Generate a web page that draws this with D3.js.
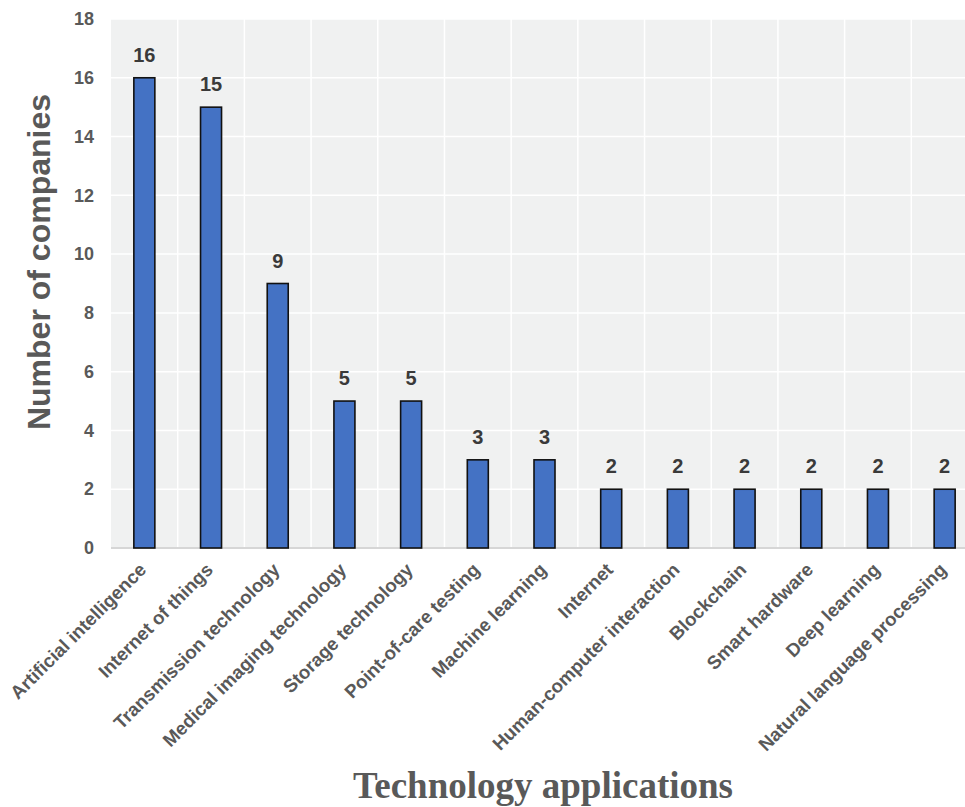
<!DOCTYPE html>
<html>
<head>
<meta charset="utf-8">
<script src="https://cdn.jsdelivr.net/npm/d3@7"></script>
<style>
  body { margin: 0; background: #ffffff; }
  svg { display: block; }
</style>
</head>
<body>
<svg id="chart" width="965" height="807"></svg>
<script>
// Number of companies by technology application
const categories = [
  "Artificial intelligence", "Internet of things", "Transmission technology",
  "Medical imaging technology", "Storage technology", "Point-of-care testing",
  "Machine learning", "Internet", "Human-computer interaction", "Blockchain",
  "Smart hardware", "Deep learning", "Natural language processing"
];
const companies = [16, 15, 9, 5, 5, 3, 3, 2, 2, 2, 2, 2, 2];
const yTicks = [0, 2, 4, 6, 8, 10, 12, 14, 16, 18];

const svg = d3.select("#chart");
const plotLeft = 111, plotRight = 978, plotTop = 19, plotBottom = 548;

const x = d3.scaleBand().domain(categories).range([plotLeft, plotRight]).padding(0);
const y = d3.scaleLinear().domain([0, 18]).range([plotBottom, plotTop]);

// plot background
svg.append("rect")
  .attr("x", plotLeft).attr("y", plotTop)
  .attr("width", plotRight - plotLeft).attr("height", plotBottom - plotTop)
  .attr("fill", "#f0f1f1");

// horizontal grid
svg.append("g").selectAll("line").data(yTicks.slice(1)).join("line")
  .attr("x1", plotLeft).attr("x2", plotRight)
  .attr("y1", d => y(d)).attr("y2", d => y(d))
  .attr("stroke", "#ffffff").attr("stroke-width", 1.5);

// vertical grid at category boundaries
svg.append("g").selectAll("line").data(categories.slice(1)).join("line")
  .attr("x1", d => x(d)).attr("x2", d => x(d))
  .attr("y1", plotTop).attr("y2", plotBottom)
  .attr("stroke", "#ffffff").attr("stroke-width", 1.5);

// baseline
svg.append("line")
  .attr("x1", plotLeft).attr("x2", plotRight)
  .attr("y1", y(0)).attr("y2", y(0))
  .attr("stroke", "#d6d6d6").attr("stroke-width", 2);

// bars
const barW = 21;
svg.append("g").selectAll("rect").data(categories).join("rect")
  .attr("x", d => x(d) + x.bandwidth() / 2 - barW / 2)
  .attr("y", (d, i) => y(companies[i]))
  .attr("width", barW)
  .attr("height", (d, i) => y(0) - y(companies[i]))
  .attr("fill", "#4472c4")
  .attr("stroke", "#111111").attr("stroke-width", 1.6);

// value labels
svg.append("g").selectAll("text").data(categories).join("text")
  .attr("x", d => x(d) + x.bandwidth() / 2)
  .attr("y", (d, i) => y(companies[i]) - 16)
  .attr("text-anchor", "middle")
  .attr("font-family", "Liberation Sans, Arial, sans-serif")
  .attr("font-weight", "bold").attr("font-size", 20)
  .attr("fill", "#3a3a3a")
  .text((d, i) => companies[i]);

// y axis
const yAxis = d3.axisLeft(y).tickValues(yTicks).tickSize(0).tickPadding(0);
const gy = svg.append("g").attr("transform", `translate(${plotLeft - 17},0)`).call(yAxis);
gy.select(".domain").remove();
gy.selectAll("text")
  .attr("font-family", "Liberation Sans, Arial, sans-serif")
  .attr("font-weight", "bold").attr("font-size", 18)
  .attr("fill", "#595959");

// x axis with rotated category labels
const xAxis = d3.axisBottom(x).tickSize(0).tickPadding(0);
const gx = svg.append("g").attr("transform", `translate(0,${y(0)})`).call(xAxis);
gx.select(".domain").remove();
gx.selectAll("text")
  .attr("font-family", "Liberation Sans, Arial, sans-serif")
  .attr("font-weight", "bold").attr("font-size", 18.7)
  .attr("fill", "#595959")
  .attr("text-anchor", "end")
  .attr("dy", null)
  .attr("transform", "translate(3,23) rotate(-45)");

// axis titles
svg.append("text")
  .attr("transform", "translate(50,262) rotate(-90)")
  .attr("text-anchor", "middle")
  .attr("font-family", "Liberation Sans, Arial, sans-serif")
  .attr("font-weight", "bold").attr("font-size", 32)
  .attr("fill", "#595959")
  .text("Number of companies");

svg.append("text")
  .attr("x", 543).attr("y", 798)
  .attr("text-anchor", "middle")
  .attr("font-family", "Liberation Serif, Times New Roman, serif")
  .attr("font-weight", "bold").attr("font-size", 37)
  .attr("fill", "#595959")
  .text("Technology applications");
</script>
</body>
</html>
